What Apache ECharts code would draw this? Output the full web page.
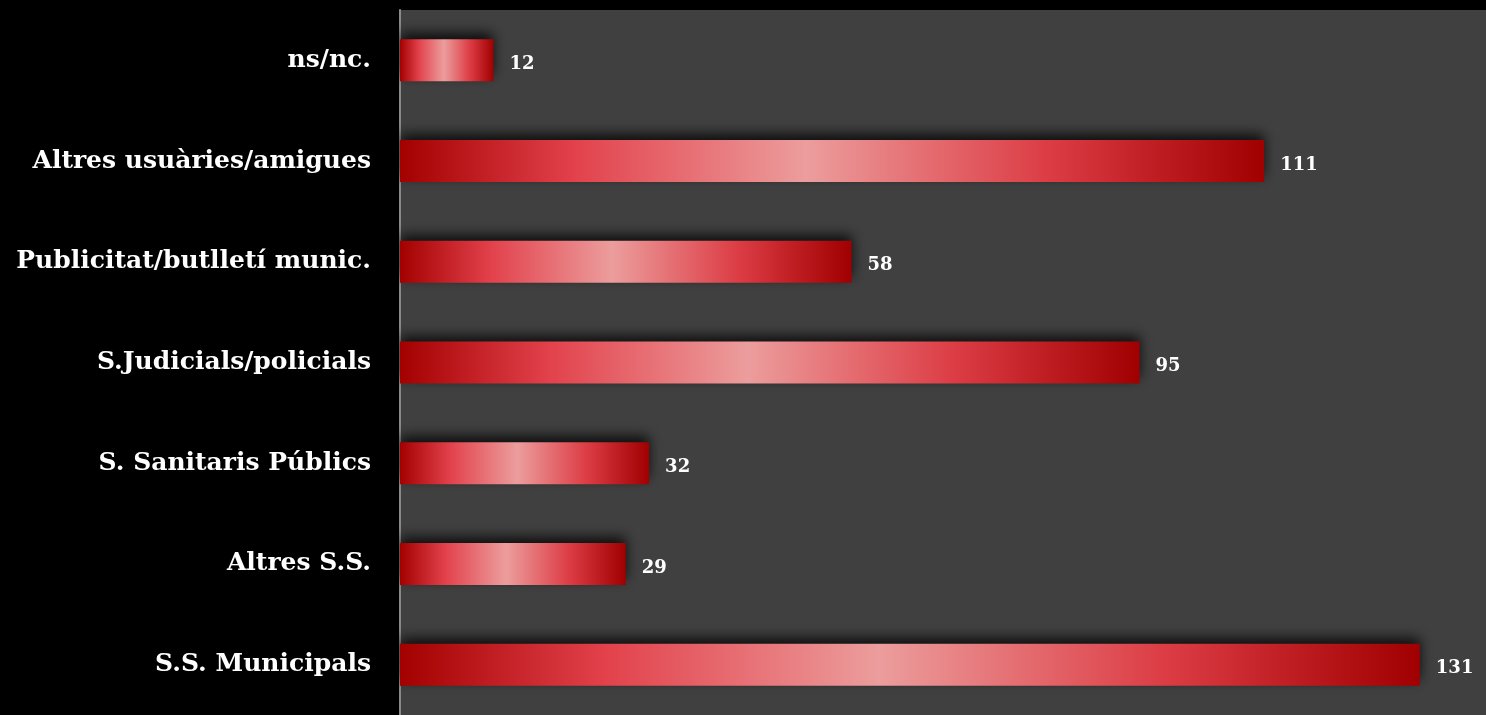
<!DOCTYPE html>
<html><head><meta charset="utf-8">
<script src="https://cdn.jsdelivr.net/npm/echarts@6/dist/echarts.min.js"></script>
<style>html,body{margin:0;padding:0;background:#000;}#c{width:1486px;height:715px;}</style>
</head><body><div id="c"></div>
<script>
const categories = ['S.S. Municipals','Altres S.S.','S. Sanitaris Públics','S.Judicials/policials','Publicitat/butlletí munic.','Altres usuàries/amigues','ns/nc.'];
const values = [131, 29, 32, 95, 58, 111, 12];
const chart = echarts.init(document.getElementById('c'));
const grad = new echarts.graphic.LinearGradient(0,0,1,0,[
  {offset:0,color:'#a30000'},
  {offset:0.2,color:'#e2414b'},
  {offset:0.47,color:'#ec9d9d'},
  {offset:0.75,color:'#dc3c44'},
  {offset:1,color:'#a00000'}
]);
chart.setOption({
  backgroundColor:'#000',
  grid:{left:400,right:0,top:10,bottom:0,show:true,backgroundColor:'#404040',borderWidth:0},
  xAxis:{type:'value',min:0,max:139.5,show:false},
  yAxis:{type:'category',data:categories,
    axisLine:{show:true,lineStyle:{color:'#8a8a8a',width:2}},
    axisTick:{show:false},
    axisLabel:{color:'#fff',fontFamily:'DejaVu Serif',fontWeight:'bold',fontSize:25,margin:29}},
  series:[{type:'bar',data:values,barWidth:42,
    itemStyle:{color:grad,shadowColor:'rgba(0,0,0,0.8)',shadowBlur:12,shadowOffsetY:-6},
    label:{show:true,position:'right',distance:16,offset:[0,4],color:'#fff',fontFamily:'DejaVu Serif',fontWeight:'bold',fontSize:18}}]
});
</script></body></html>
